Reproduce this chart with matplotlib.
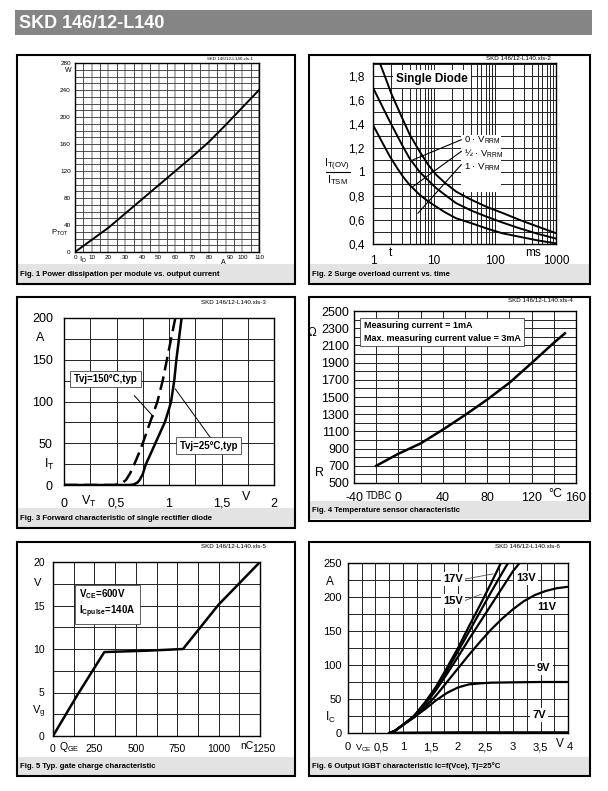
import matplotlib
matplotlib.use('Agg')
import matplotlib.pyplot as plt
from matplotlib.patches import Rectangle
from matplotlib.ticker import MultipleLocator, LogLocator, NullFormatter
from matplotlib.transforms import ScaledTranslation

plt.rcParams['font.family'] = ['Liberation Sans', 'DejaVu Sans']
plt.rcParams['mathtext.fontset'] = 'custom'
plt.rcParams['mathtext.rm'] = 'Liberation Sans'
plt.rcParams['mathtext.it'] = 'Liberation Sans:italic'
plt.rcParams['mathtext.bf'] = 'Liberation Sans:bold'
plt.rcParams['mathtext.default'] = 'regular'

# ---------------- data ----------------
title = "SKD 146/12-L140"

# Fig 1
p1_current = [0, 10, 20, 30, 40, 50, 60, 70, 80, 90, 100, 110]
p1_power = [0, 18, 36, 57, 78, 99, 120, 141, 163, 188, 214, 240]
p1_xticks = [0, 10, 20, 30, 40, 50, 60, 70, 80, 90, 100, 110]
p1_yticks = [0, 40, 80, 120, 160, 200, 240, 280]

# Fig 2
p2_t_0 = [1.29, 1.5, 2, 3.1, 4, 5.8, 8, 10.9, 15, 23, 40, 72, 130, 254, 500, 1000]
p2_i_0 = [1.906, 1.82, 1.65, 1.433, 1.31, 1.17, 1.06, 0.975, 0.91, 0.836, 0.77, 0.71, 0.66, 0.60, 0.545, 0.49]
p2_t_half = [1, 1.4, 1.88, 2.5, 3.1, 4, 5.8, 8, 10.9, 15, 23, 40, 72, 130, 254, 500, 1000]
p2_i_half = [1.70, 1.55, 1.42, 1.30, 1.21, 1.11, 1.0, 0.93, 0.864, 0.81, 0.74, 0.68, 0.628, 0.58, 0.53, 0.485, 0.445]
p2_t_1 = [1, 1.4, 1.88, 2.5, 3.1, 4, 5.8, 8, 10.9, 15, 23, 40, 72, 130, 254, 500, 1000]
p2_i_1 = [1.39, 1.25, 1.13, 1.03, 0.96, 0.89, 0.81, 0.755, 0.71, 0.665, 0.614, 0.575, 0.53, 0.49, 0.46, 0.43, 0.405]
p2_yticks = [0.4, 0.6, 0.8, 1.0, 1.2, 1.4, 1.6, 1.8]
p2_xticks = [1, 10, 100, 1000]
p2_labels = ["0 · V$_{RRM}$", "½ · V$_{RRM}$", "1 · V$_{RRM}$"]

# Fig 3
p3_v_25 = [0, 0.62, 0.66, 0.70, 0.72, 0.75, 0.78, 0.82, 0.87, 0.92, 0.96, 1.0, 1.02, 1.05, 1.07, 1.10, 1.12]
p3_i_25 = [0, 0, 0.5, 3, 6, 13, 25, 36, 50, 64, 75, 91, 100, 125, 150, 180, 200]
p3_v_150 = [0, 0.48, 0.52, 0.56, 0.59, 0.63, 0.67, 0.71, 0.75, 0.82, 0.89, 0.94, 0.98, 1.02, 1.06]
p3_i_150 = [0, 0, 1, 3, 6, 14, 25, 37, 50, 75, 100, 125, 150, 175, 200]
p3_xticks = [0, 0.5, 1, 1.5, 2]
p3_xlabels = ["0", "0,5", "1", "1,5", "2"]
p3_yticks = [0, 50, 100, 150, 200]

# Fig 4
p4_temp = [-20, 0, 20, 40, 60, 80, 100, 120, 140, 150]
p4_res = [700, 840, 960, 1120, 1290, 1470, 1665, 1895, 2130, 2240]
p4_xticks = [-40, 0, 40, 80, 120, 160]
p4_yticks = [500, 700, 900, 1100, 1300, 1500, 1700, 1900, 2100, 2300, 2500]

# Fig 5
p5_charge = [0, 150, 310, 560, 785, 1000, 1250]
p5_vg = [0, 4.8, 9.65, 9.8, 10.0, 15.1, 20.0]
p5_xticks = [0, 250, 500, 750, 1000, 1250]
p5_yticks = [0, 5, 10, 15, 20]

# Fig 6
p6_v_17 = [0.75, 0.85, 1.0, 1.2, 1.4, 1.6, 1.8, 2.0, 2.2, 2.4, 2.6, 2.78]
p6_i_17 = [0, 3, 12, 25, 45, 68, 96, 125, 157, 188, 220, 250]
p6_v_15 = [0.75, 0.85, 1.0, 1.2, 1.4, 1.6, 1.8, 2.0, 2.2, 2.4, 2.6, 2.8, 2.91]
p6_i_15 = [0, 3, 12, 25, 44, 66, 92, 120, 149, 178, 207, 235, 250]
p6_v_13 = [0.75, 0.85, 1.0, 1.2, 1.4, 1.6, 1.8, 2.0, 2.2, 2.4, 2.6, 2.8, 3.0, 3.12]
p6_i_13 = [0, 3, 12, 24, 42, 63, 87, 112, 138, 163, 188, 213, 238, 250]
p6_v_11 = [0.75, 0.85, 1.0, 1.2, 1.4, 1.6, 1.8, 2.0, 2.2, 2.4, 2.6, 2.8, 3.0, 3.2, 3.4, 3.6, 3.8, 4.0]
p6_i_11 = [0, 3, 12, 23, 38, 55, 75, 95, 115, 134, 152, 168, 182, 194, 203, 209, 213, 215]
p6_v_9 = [0.75, 0.85, 1.0, 1.2, 1.4, 1.6, 1.8, 2.0, 2.2, 2.4, 2.6, 3.0, 3.5, 4.0]
p6_i_9 = [0, 3, 12, 23, 35, 48, 59, 67, 71.5, 73, 74, 74.5, 75, 75]
p6_v_7 = [0.75, 1.0, 2.0, 3.0, 4.0]
p6_i_7 = [0, 0.5, 1, 1, 1]
p6_xticks = [0, 0.5, 1, 1.5, 2, 2.5, 3, 3.5, 4]
p6_xlabels = ["0", "0,5", "1", "1,5", "2", "2,5", "3", "3,5", "4"]
p6_yticks = [0, 50, 100, 150, 200, 250]

captions = [
    "Fig. 1 Power dissipation per module vs. output current",
    "Fig. 2 Surge overload current vs. time",
    "Fig. 3 Forward characteristic of single rectifier diode",
    "Fig. 4 Temperature sensor characteristic",
    "Fig. 5 Typ. gate charge characteristic",
    "Fig. 6 Output IGBT characteristic Ic=f(Vce), Tj=25°C",
]

# ---------------- layout ----------------
W, H = 608, 791
fig = plt.figure(figsize=(W / 100, H / 100), dpi=100)
bg = fig.add_axes([0, 0, 1, 1])
bg.set_xlim(0, W)
bg.set_ylim(H, 0)
bg.axis('off')

bg.add_patch(Rectangle((15, 10), 577, 25, facecolor='#858585', edgecolor='none'))
bg.text(19, 23, title, color='white', fontsize=13, fontweight='bold', va='center', ha='left')

# boxes: left, top, right, bottom, caption top, caption bottom
boxes = [
    (17, 55, 295, 284, 264, 283),
    (309, 55, 590, 284, 264, 283),
    (17, 297, 295, 528, 508, 527),
    (309, 297, 590, 521, 501, 519),
    (17, 542, 295, 776, 757, 775),
    (309, 542, 590, 776, 757, 775),
]
headers = [(230, 59, 3.2), (518, 59, 4.5), (233, 302, 4.5), (540, 301, 4.5), (233, 547, 4.5), (527, 547, 4.5)]
for i, (l, t, r, b, ct, cb) in enumerate(boxes):
    bg.add_patch(Rectangle((l, ct), r - l, cb - ct, facecolor='#e3e3e3', edgecolor='none'))
    bg.add_patch(Rectangle((l, t), r - l, b - t, facecolor='none', edgecolor='black', lw=1.5))
    bg.text(l + 3, (ct + cb) / 2 + 0.5, captions[i], fontsize=5.6, fontweight='bold', va='center', ha='left')
    hx, hy, hs = headers[i]
    bg.text(hx, hy, "SKD 146/12-L140.xls-%d" % (i + 1), fontsize=hs, ha='center', va='center')


def pax(l, t, r, b):
    return fig.add_axes([l / W, 1 - b / H, (r - l) / W, (b - t) / H])


def style(ax, fs, xpad, ypad):
    ax.tick_params(which='both', length=0, labelsize=fs)
    ax.tick_params(axis='x', pad=xpad)
    ax.tick_params(axis='y', pad=ypad)
    for s in ax.spines.values():
        s.set_linewidth(1.0)
        s.set_color('black')


def shift_xlabel(ax, idx, dx_px):
    lab = ax.get_xticklabels()[idx]
    lab.set_transform(lab.get_transform() + ScaledTranslation(dx_px / 100, 0, fig.dpi_scale_trans))


def comma(v):
    return ('%g' % v).replace('.', ',')


LW = 1.8

# ---------------- Fig 1 ----------------
ax1 = pax(75, 63, 259, 252)
ax1.plot(p1_current, p1_power, color='black', lw=1.4)
ax1.set_xlim(0, 110)
ax1.set_ylim(0, 280)
ax1.set_xticks(p1_xticks)
ax1.set_xticklabels([str(v) for v in p1_xticks])
ax1.xaxis.set_minor_locator(MultipleLocator(5))
ax1.set_yticks(p1_yticks)
ax1.yaxis.set_minor_locator(MultipleLocator(10))
ax1.grid(which='major', axis='x', color='#a8a8a8', lw=1.2)
ax1.grid(which='minor', axis='x', color='#333333', lw=0.6)
ax1.grid(which='both', axis='y', color='#333333', lw=0.6)
style(ax1, 4.6, 2.5, 3)
ax1.tick_params(axis='x', labelsize=4.5)
shift_xlabel(ax1, 9, 5)
bg.text(68, 70, "W", fontsize=5, ha='center', va='center')
bg.text(60, 233, "P$_{TOT}$", fontsize=5.5, ha='center', va='center')
bg.text(83, 260, "I$_{D}$", fontsize=5.5, ha='center', va='center')
bg.text(223, 262, "A", fontsize=5, ha='center', va='center')

# ---------------- Fig 2 ----------------
ax2 = pax(373, 63, 556, 244)
ax2.set_xscale('log')
ax2.plot(p2_t_0, p2_i_0, color='black', lw=1.4, zorder=3)
ax2.plot(p2_t_half, p2_i_half, color='black', lw=1.4, zorder=3)
ax2.plot(p2_t_1, p2_i_1, color='black', lw=1.4, zorder=3)
ax2.set_xlim(1, 1000)
ax2.set_ylim(0.4, 1.905)
ax2.set_xticks(p2_xticks)
ax2.set_xticklabels(["1", "10", "100", "1000"])
ax2.xaxis.set_minor_locator(LogLocator(base=10, subs=range(2, 10)))
ax2.xaxis.set_minor_formatter(NullFormatter())
ax2.set_yticks(p2_yticks)
ax2.set_yticklabels([comma(v) for v in p2_yticks])
ax2.yaxis.set_minor_locator(MultipleLocator(0.1))
ax2.grid(which='both', color='#222222', lw=0.7)
style(ax2, 8.5, 8, 6)
ax2.add_patch(Rectangle((28, 0.836), 99, 0.474, facecolor='white', edgecolor='none', zorder=2))
ax2.text(9.3, 1.77, "Single Diode", fontsize=8.5, fontweight='bold', ha='center', va='center',
         zorder=2.5, bbox=dict(facecolor='white', edgecolor='none', pad=2))
for (x0, y0, x1, y1), (ly, lab) in zip(
        [(4.53, 1.10, 28, 1.267), (4.53, 0.878, 28, 1.17), (5.47, 0.656, 28, 1.06)],
        zip([1.26, 1.15, 1.04], p2_labels)):
    ax2.plot([x0, x1], [y0, y1], color='black', lw=0.8, zorder=3)
    ax2.text(31, ly, lab, fontsize=6.8, ha='left', va='center', zorder=3)
bg.text(337, 165, "I$_{T(OV)}$", fontsize=8, ha='center', va='center')
bg.plot([326, 350], [172, 172], color='black', lw=0.8)
bg.text(337, 180, "I$_{TSM}$", fontsize=8, ha='center', va='center')
bg.text(390, 253, "t", fontsize=8.5, ha='center', va='center')
bg.text(533, 253, "ms", fontsize=8.5, ha='center', va='center')

# ---------------- Fig 3 ----------------
ax3 = pax(64, 318, 274, 485)
ax3.plot(p3_v_25, p3_i_25, color='black', lw=LW, zorder=3)
ax3.plot(p3_v_150, p3_i_150, color='black', lw=LW, ls=(0, (5.5, 2.5)), zorder=3)
ax3.set_xlim(0, 2)
ax3.set_ylim(0, 200)
ax3.set_xticks(p3_xticks)
ax3.set_xticklabels(p3_xlabels)
ax3.xaxis.set_minor_locator(MultipleLocator(0.25))
ax3.set_yticks(p3_yticks)
ax3.yaxis.set_minor_locator(MultipleLocator(25))
ax3.grid(which='both', color='#222222', lw=0.7)
style(ax3, 9, 9, 8)
ax3.plot([0.67, 0.85], [107, 82], color='black', lw=0.7, zorder=4)
ax3.plot([1.06, 1.41], [115, 54], color='black', lw=0.7, zorder=4)
ax3.text(0.09, 127, "Tvj=150°C,typ", fontsize=7, fontweight='bold', ha='left', va='center', zorder=5,
         bbox=dict(facecolor='white', edgecolor='#444444', lw=0.6, boxstyle='square,pad=0.35'))
ax3.text(1.10, 47, "Tvj=25°C,typ", fontsize=7, fontweight='bold', ha='left', va='center', zorder=5,
         bbox=dict(facecolor='white', edgecolor='#444444', lw=0.6, boxstyle='square,pad=0.35'))
bg.text(40, 338, "A", fontsize=9, ha='center', va='center')
bg.text(49, 464, "I$_{T}$", fontsize=9, ha='center', va='center')
bg.text(89, 501, "V$_{T}$", fontsize=9, ha='center', va='center')
bg.text(246, 497, "V", fontsize=9, ha='center', va='center')

# ---------------- Fig 4 ----------------
ax4 = pax(354, 311, 576, 483)
ax4.plot(p4_temp, p4_res, color='black', lw=LW, zorder=3)
ax4.set_xlim(-40, 160)
ax4.set_ylim(500, 2500)
ax4.set_xticks(p4_xticks)
ax4.set_xticklabels([str(v) for v in p4_xticks])
ax4.xaxis.set_minor_locator(MultipleLocator(20))
ax4.set_yticks(p4_yticks)
ax4.yaxis.set_minor_locator(MultipleLocator(100))
ax4.grid(which='both', color='#222222', lw=0.7)
style(ax4, 9, 6.5, 3.5)
ax4.text(-31, 2255, "Measuring current = 1mA\nMax. measuring current value = 3mA", fontsize=6.5,
         fontweight='bold', ha='left', va='center', zorder=5, linespacing=1.5,
         bbox=dict(facecolor='white', edgecolor='#444444', lw=0.6, boxstyle='square,pad=0.4'))
bg.text(312, 333, "Ω", fontsize=8.5, ha='center', va='center')
bg.text(320, 473, "R", fontsize=9, ha='center', va='center')
bg.text(379, 496, "TDBC", fontsize=7, ha='center', va='center')
bg.text(555, 494, "°C", fontsize=9, ha='center', va='center')

# ---------------- Fig 5 ----------------
ax5 = pax(53, 562, 260, 736)
ax5.plot(p5_charge, p5_vg, color='black', lw=LW, zorder=3)
ax5.set_xlim(0, 1250)
ax5.set_ylim(0, 20)
ax5.set_xticks(p5_xticks)
ax5.set_xticklabels([str(v) for v in p5_xticks])
ax5.xaxis.set_minor_locator(MultipleLocator(125))
ax5.set_yticks(p5_yticks)
ax5.yaxis.set_minor_locator(MultipleLocator(2.5))
ax5.grid(which='both', color='#222222', lw=0.7)
style(ax5, 7.5, 6, 6)
shift_xlabel(ax5, 5, 4)
ax5.text(160, 17.1, "V$_{CE}$=600V\nI$_{Cpulse}$=140A", fontsize=7, fontweight='bold', ha='left',
         va='top', zorder=5, linespacing=1.25,
         bbox=dict(facecolor='white', edgecolor='#444444', lw=0.6, boxstyle='square,pad=0.45'))
bg.text(38, 583, "V", fontsize=8, ha='center', va='center')
bg.text(39, 712, "V$_{g}$", fontsize=8, ha='center', va='center')
bg.text(69, 747, "Q$_{GE}$", fontsize=7.5, ha='center', va='center')
bg.text(247, 746, "nC", fontsize=7.5, ha='center', va='center')

# ---------------- Fig 6 ----------------
ax6 = pax(348, 563, 568, 733)
for vv, ii in [(p6_v_17, p6_i_17), (p6_v_15, p6_i_15), (p6_v_13, p6_i_13),
               (p6_v_11, p6_i_11), (p6_v_9, p6_i_9), (p6_v_7, p6_i_7)]:
    ax6.plot(vv, ii, color='black', lw=1.6, zorder=3)
ax6.set_xlim(0, 4)
ax6.set_ylim(0, 250)
ax6.set_xticks(p6_xticks)
ax6.set_xticklabels(p6_xlabels)
ax6.xaxis.set_minor_locator(MultipleLocator(0.25))
ax6.set_yticks(p6_yticks)
ax6.yaxis.set_minor_locator(MultipleLocator(25))
ax6.grid(which='both', color='#222222', lw=0.7)
style(ax6, 8, 6.5, 4.5)
shift_xlabel(ax6, 1, 6)
shift_xlabel(ax6, 8, 2)
ax6.plot([2.10, 2.64], [226, 234], color='#555555', lw=0.6, zorder=4)
ax6.plot([2.10, 2.42], [194, 204], color='#555555', lw=0.6, zorder=4)
for x, y, lab in [(1.91, 226, "17V"), (1.91, 194, "15V"), (3.23, 228, "13V"),
                  (3.62, 186, "11V"), (3.56, 96, "9V"), (3.47, 27, "7V")]:
    ax6.text(x, y, lab, fontsize=8, fontweight='bold', ha='center', va='center', zorder=5,
             bbox=dict(facecolor='white', edgecolor='none', pad=1.5))
bg.text(330, 582, "A", fontsize=8.5, ha='center', va='center')
bg.text(330, 717, "I$_{C}$", fontsize=8.5, ha='center', va='center')
bg.text(363, 748, "V$_{CE}$", fontsize=6.5, ha='center', va='center')
bg.text(560, 744, "V", fontsize=8.5, ha='center', va='center')

fig.savefig('out.png', dpi=100)
